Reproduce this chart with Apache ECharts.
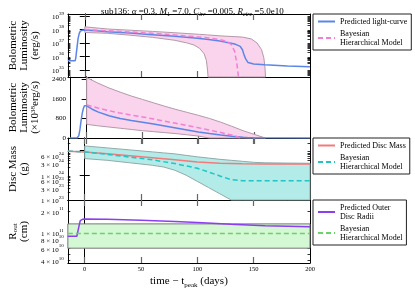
<!DOCTYPE html>
<html><head><meta charset="utf-8">
<script src="https://cdn.jsdelivr.net/npm/echarts@6/dist/echarts.min.js"></script>
<style>html,body{margin:0;padding:0;background:#fff}#c{width:415px;height:291px}</style>
</head><body><div id="c"></div>
<script>
// ---------- data ----------
const xMin = -15, xMax = 200;
const xTickVals = [0, 50, 100, 150, 200];

// Panel 1: log10 bolometric luminosity (erg/s)
const p1BlueX = [-15,-8.5,-8,-7,-6,-5,-4,-2,0,10,20,40,60,80,100,110,120,129,134,138,140,141.5,143,145,150,160,180,200];
const p1BlueY = [35.69,35.69,35.9,36.6,37.3,37.7,37.88,37.95,37.96,37.9,37.84,37.74,37.62,37.5,37.35,37.26,37.14,37.0,36.9,36.75,36.5,36.1,35.8,35.55,35.45,35.38,35.3,35.24];
const p1BhmX = [0,20,40,60,80,100,110,120,126,130,133,135,136,136.5];
const p1BhmY = [38.0,37.91,37.82,37.72,37.6,37.45,37.37,37.25,37.12,36.9,36.4,35.5,34.8,34.48];
const p1BandX = [0,20,40,60,80,91,97,102,106,108,109,109.5,120,140,148,153,157,159,160,160.5];
const p1BandUp = [38.2,38.04,37.95,37.86,37.76,37.7,37.67,37.64,37.62,37.61,37.6,37.6,37.53,37.44,37.3,37.0,36.5,35.9,35.2,34.48];
const p1BandLo = [37.78,37.72,37.58,37.42,37.2,37.0,36.85,36.6,36.2,35.7,35.0,34.48,34.48,34.48,34.48,34.48,34.48,34.48,34.48,34.48];
const p1Labels = [35, 36, 37, 38, 39];

// Panel 2: bolometric luminosity (x10^38 erg/s)
const p2BlueX = [-15,-8.5,-8,-7,-6,-5,-4,-3,-2,-1,0,5,10,20,30,40,50,60,70,80,90,100,110,120,130,140,145,150,200];
const p2BlueY = [0,0,20,100,350,700,1000,1200,1320,1350,1320,1180,1070,910,800,720,650,570,490,410,330,250,185,125,75,30,12,6,3];
const p2BhmX = [0,10,20,30,40,50,60,70,80,90,100,110,120,130,135,137];
const p2BhmY = [1350,1230,1120,1020,940,865,780,690,600,510,420,325,225,120,50,0];
const p2BandX = [0,10,20,30,40,50,60,70,80,90,100,107,110,120,130,140,150,160];
const p2BandUp = [2480,2250,2050,1880,1720,1580,1440,1300,1170,1050,930,840,800,650,480,300,150,0];
const p2BandLo = [560,500,450,400,350,300,260,220,180,130,80,20,0,0,0,0,0,0];
const p2Labels = [0, 800, 1600, 2400];

// Panel 3: log10 disc mass (g)
const p3RedX = [-15,0,20,40,60,80,100,120,140,160,200];
const p3RedY = [24.97,24.94,24.86,24.78,24.70,24.62,24.53,24.48,24.46,24.455,24.45];
const p3BhmX = [-15,0,20,40,60,80,100,110,120,130,140,160,200];
const p3BhmY = [24.97,24.94,24.84,24.73,24.62,24.47,24.28,24.13,23.97,23.82,23.78,23.78,23.78];
const p3BandX = [0,20,40,60,70,80,90,100,110,120,130,140,150,160,180,200];
const p3BandUp = [25.18,25.1,25.02,24.94,24.9,24.86,24.8,24.74,24.69,24.64,24.6,24.56,24.52,24.5,24.49,24.48];
const p3BandLo = [24.67,24.6,24.5,24.4,24.33,24.2,24.0,23.75,23.5,23.25,23.0,23,23,23,23,23];
const p3Labels = [25, Math.log10(6e24), Math.log10(3e24), 24, Math.log10(6e23), Math.log10(3e23), 23];

// Panel 4: log10 outer disc radius (cm)
const p4PurpleX = [-15,-7,-6,-5,-4,-2,0,20,50,80,100,130,160,200];
const p4PurpleY = [10.95,10.95,10.96,11.1,11.17,11.19,11.195,11.19,11.175,11.16,11.145,11.12,11.1,11.085];
const p4BhmX = [-15, 200];
const p4BhmY = [10.99, 10.99];
const p4BandX = [-15, 200];
const p4BandUp = [11.125, 11.125];
const p4BandLo = [10.78, 10.78];
const p4Labels = [Math.log10(2e11), 11, Math.log10(8e10), Math.log10(6e10), Math.log10(4e10)];

// ---------- helpers ----------
const F = "'Liberation Serif','DejaVu Serif',serif";
const grids = [
  {left:59, right:105, top:14, height:63},
  {left:59, right:105, top:77, height:61},
  {left:59, right:105, top:138, height:62},
  {left:59, right:105, top:200, height:63}
];
function logMinors(min, max) {
  const out = [];
  for (let n = Math.floor(min) - 1; n <= Math.ceil(max); n++) {
    for (let k = 2; k <= 9; k++) { const v = n + Math.log10(k); if (v >= min && v <= max) out.push(v); }
  }
  return out;
}
function logMajors(min, max) {
  const out = [];
  for (let n = Math.ceil(min); n <= Math.floor(max); n++) out.push(n);
  return out;
}
const supRich = {
  b: {fontSize: 7, fontFamily: F, color: '#000', lineHeight: 10, verticalAlign: 'bottom'},
  e: {fontSize: 5, fontFamily: F, color: '#000', lineHeight: 10, verticalAlign: 'top'}
};
function fmtPow(v) {
  const n = Math.floor(v + 1e-9);
  return '{b|10}{e|' + n + '}';
}
function fmtMantPow(v) {
  const n = Math.floor(v + 1e-9);
  const m = Math.round(Math.pow(10, v - n));
  return '{b|' + m + ' \u00d7 10}{e|' + n + '}';
}
const axisLine = {show: true, lineStyle: {color: '#000', width: 1}};

const xAxes = [], yAxes = [];
grids.forEach((g, i) => {
  const last = i === 3;
  xAxes.push({
    type: 'value', gridIndex: i, min: xMin, max: xMax, position: 'bottom',
    axisLine, splitLine: {show: false},
    axisTick: {show: true, inside: true, length: 6, customValues: [0, 50, 100, 150], lineStyle: {color: '#666', width: 1.2}},
    axisLabel: last ? {show: true, customValues: xTickVals, fontSize: 6.5, fontFamily: F, color: '#000', margin: 3} : {show: false},
    name: last ? 'time \u2212 t{s|peak} (days)' : '',
    nameLocation: 'middle', nameGap: 11,
    nameTextStyle: {fontSize: 11, fontFamily: F, color: '#000', rich: {s: {fontSize: 7, fontFamily: F, color: '#000', verticalAlign: 'bottom', lineHeight: 15}}}
  });
  xAxes.push({
    type: 'value', gridIndex: i, min: xMin, max: xMax, position: 'top',
    axisLine, splitLine: {show: false},
    axisTick: {show: true, inside: true, length: 6, customValues: [0, 50, 100, 150], lineStyle: {color: '#666', width: 1.2}},
    axisLabel: {show: false}
  });
});

function addY(i, min, max, majors, minors, labels, fmt, name, nameGap, extraRich) {
  const nameStyle = {fontSize: 11, fontFamily: F, color: '#000', lineHeight: 11, rich: Object.assign({
    a: {fontSize: 11, fontFamily: F, color: '#000', lineHeight: 11},
    s: {fontSize: 7, fontFamily: F, color: '#000', lineHeight: 11, verticalAlign: 'bottom'},
    e: {fontSize: 7, fontFamily: F, color: '#000', lineHeight: 11, verticalAlign: 'top'}
  }, extraRich || {})};
  const common = {type: 'value', gridIndex: i, min, max, axisLine, splitLine: {show: false}};
  yAxes.push(Object.assign({}, common, {
    position: 'left',
    axisTick: {show: true, inside: true, length: 5, customValues: majors, lineStyle: {color: '#000', width: 1}},
    axisLabel: {show: true, customValues: labels, formatter: fmt, fontSize: 7, fontFamily: F, color: '#000', margin: 4, rich: supRich},
    name, nameLocation: 'middle', nameRotate: 90, nameGap, nameTextStyle: nameStyle
  }));
  yAxes.push(Object.assign({}, common, {
    position: 'right',
    axisTick: {show: true, inside: true, length: 5, customValues: majors, lineStyle: {color: '#000', width: 1}},
    axisLabel: {show: false}
  }));
  yAxes.push(Object.assign({}, common, {
    position: 'left',
    axisTick: {show: minors.length > 0, inside: true, length: 2.5, customValues: minors, lineStyle: {color: '#000', width: 0.8}},
    axisLabel: {show: false}
  }));
  yAxes.push(Object.assign({}, common, {
    position: 'right',
    axisTick: {show: minors.length > 0, inside: true, length: 2.5, customValues: minors, lineStyle: {color: '#000', width: 0.8}},
    axisLabel: {show: false}
  }));
}
addY(0, 34.48, 39.15, logMajors(34.48, 39.15), logMinors(34.48, 39.15), p1Labels, fmtPow,
  'Bolometric\nLuminosity\n(erg/s)', 22);
addY(1, 0, 2500, p2Labels, [], p2Labels, v => String(v),
  '{a|Bolometric}\n{a|Luminosity}\n{a|(\u00d710}{e|38}{a|erg/s)}', 22);
addY(2, 23, 25.5, logMajors(23, 25.5), logMinors(23, 25.5), p3Labels, fmtMantPow,
  'Disc Mass\n(g)', 34);
addY(3, 10.57, 11.464, logMajors(10.57, 11.464), logMinors(10.57, 11.464), p4Labels, fmtMantPow,
  '{a|R}{s|out}\n{a|(cm)}', 34);

function line(i, xs, ys, color, type, name, width) {
  return {type: 'line', name, xAxisIndex: 2 * i, yAxisIndex: 4 * i,
    data: xs.map((x, k) => [x, ys[k]]), showSymbol: false, symbol: 'none',
    lineStyle: {color, width: width || 1.5, type}, itemStyle: {color}, z: 5, animation: false, clip: true};
}
function band(i, xs, up, lo, fill, stroke) {
  return {type: 'custom', xAxisIndex: 2 * i, yAxisIndex: 4 * i, silent: true, animation: false, z: 1,
    data: [[xs[0], up[0]]],
    renderItem: (p, api) => {
      const pts = [];
      xs.forEach((x, k) => pts.push(api.coord([x, up[k]])));
      for (let k = xs.length - 1; k >= 0; k--) pts.push(api.coord([xs[k], lo[k]]));
      return {type: 'polygon', shape: {points: pts}, style: {fill, stroke, lineWidth: 1}};
    }};
}

const BLUE = '#5b86e8', PINK = '#f27fd6', RED = '#f47a7a', TEAL = '#22c4c4', PURPLE = '#8c3ff0', GREEN = '#6ad36a';
const BHM1 = 'Bayesian\nHierarchical Model';
const BHM3 = 'Bayesian\nHierarchical Model\u200b';
const BHM4 = 'Bayesian\nHierarchical Model\u200b\u200b';

const series = [
  band(0, p1BandX, p1BandUp, p1BandLo, '#fad3ec', '#b39aaa'),
  line(0, p1BlueX, p1BlueY, BLUE, 'solid', 'Predicted light-curve'),
  line(0, p1BhmX, p1BhmY, PINK, [5, 3], BHM1),
  band(1, p2BandX, p2BandUp, p2BandLo, '#fad3ec', '#b39aaa'),
  line(1, p2BlueX, p2BlueY, BLUE, 'solid', 'Predicted light-curve'),
  line(1, p2BhmX, p2BhmY, PINK, [5, 3], BHM1),
  band(2, p3BandX, p3BandUp, p3BandLo, '#b2ebe8', '#92aaaa'),
  line(2, p3RedX, p3RedY, RED, 'solid', 'Predicted Disc Mass'),
  line(2, p3BhmX, p3BhmY, TEAL, [5, 3], BHM3),
  band(3, p4BandX, p4BandUp, p4BandLo, '#d4f7d4', '#777777'),
  line(3, p4PurpleX, p4PurpleY, PURPLE, 'solid', 'Predicted Outer\nDisc Radii'),
  line(3, p4BhmX, p4BhmY, GREEN, [5, 3], BHM4)
];

const legendBase = {
  orient: 'vertical', left: 313, borderColor: '#222', borderWidth: 1, backgroundColor: '#fff',
  padding: [3, 4, 3, 4], itemGap: 3, itemWidth: 17, itemHeight: 8, selectedMode: false,
  itemStyle: {opacity: 0},
  lineStyle: {width: 2},
  formatter: n => n.replace(/\u200b/g, ''),
  textStyle: {fontFamily: F, fontSize: 8, color: '#000', lineHeight: 9}
};

const chart = echarts.init(document.getElementById('c'), null, {renderer: 'canvas'});
chart.setOption({
  backgroundColor: '#fff',
  animation: false,
  title: {
    text: 'sub136: {i|\u03b1} =0.3, {i|M}{s|1} =7.0, {i|C}{si|irr} =0.005, {i|R}{si|circ} =5.0e10',
    left: 96, top: 1,
    textStyle: {fontFamily: F, fontSize: 9, fontWeight: 'normal', color: '#000', lineHeight: 11,
      rich: {
        i: {fontFamily: F, fontSize: 9, fontStyle: 'italic', color: '#000', lineHeight: 11},
        s: {fontFamily: F, fontSize: 6, color: '#000', lineHeight: 11, verticalAlign: 'bottom'},
        si: {fontFamily: F, fontSize: 6, fontStyle: 'italic', color: '#000', lineHeight: 11, verticalAlign: 'bottom'}
      }}
  },
  grid: grids,
  xAxis: xAxes,
  yAxis: yAxes,
  legend: [
    Object.assign({}, legendBase, {top: 14, data: ['Predicted light-curve', BHM1]}),
    Object.assign({}, legendBase, {top: 138, data: ['Predicted Disc Mass', BHM3]}),
    Object.assign({}, legendBase, {top: 200, data: ['Predicted Outer\nDisc Radii', BHM4]})
  ],
  series
});
</script>
</body></html>
